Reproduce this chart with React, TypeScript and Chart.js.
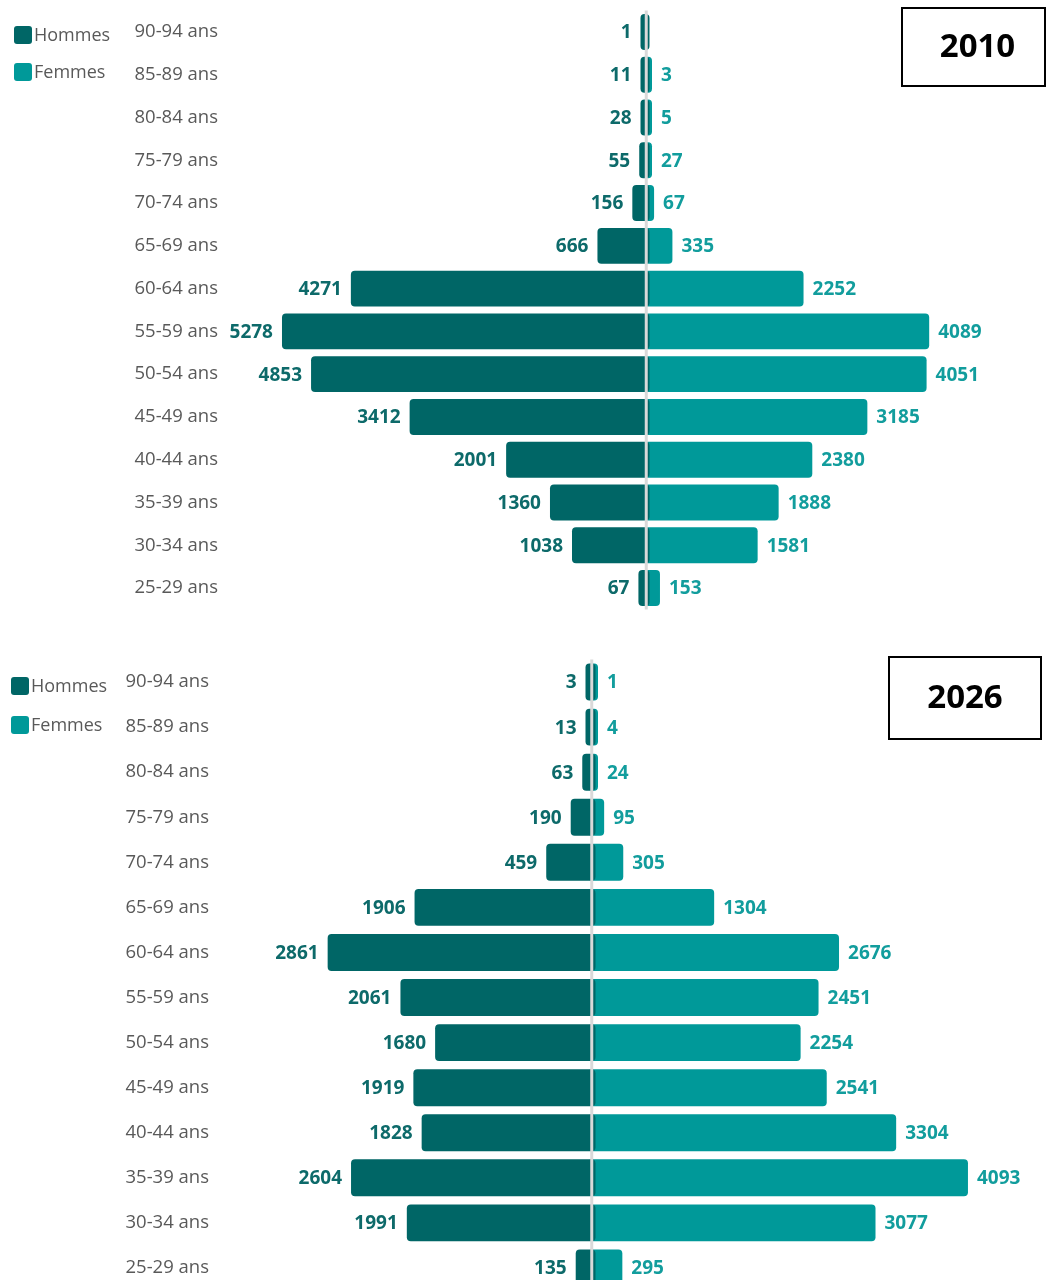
import React, { useEffect, useRef } from 'react';
import { Chart, registerables } from 'chart.js';

Chart.register(...registerables);

// Age bands, oldest at the top of the pyramid
const AGE_GROUPS = [
  '90-94 ans', '85-89 ans', '80-84 ans', '75-79 ans', '70-74 ans', '65-69 ans', '60-64 ans',
  '55-59 ans', '50-54 ans', '45-49 ans', '40-44 ans', '35-39 ans', '30-34 ans', '25-29 ans',
];

const HOMMES_2010 = [1, 11, 28, 55, 156, 666, 4271, 5278, 4853, 3412, 2001, 1360, 1038, 67];
const FEMMES_2010 = [null, 3, 5, 27, 67, 335, 2252, 4089, 4051, 3185, 2380, 1888, 1581, 153];

const HOMMES_2026 = [3, 13, 63, 190, 459, 1906, 2861, 2061, 1680, 1919, 1828, 2604, 1991, 135];
const FEMMES_2026 = [1, 4, 24, 95, 305, 1304, 2676, 2451, 2254, 2541, 3304, 4093, 3077, 295];

const SERIES = ['Hommes', 'Femmes'];
const COLOR_H = '#006666';
const COLOR_F = '#009999';
const TEXT_H = '#0d6a6a';
const TEXT_F = '#129d9d';
const AXIS_TEXT = '#595959';
const FONT = '"Open Sans", "Noto Sans", sans-serif';

type PyramidProps = {
  year: string;
  hommes: (number | null)[];
  femmes: (number | null)[];
  top: number;
  height: number;
  axisWidth: number;
  pxPerUnit: number; // horizontal scale, pixels per person
  zeroMen: number; // pixel where the men's axis starts
  zeroWomen: number; // pixel where the women's axis starts
  minBar: number;
  padTop: number;
  padBottom: number;
  barPct: number;
  legend: { x: number; y: number; gap: number };
  box: { x: number; y: number; w: number; h: number; textDx: number };
};

const WIDTH = 1046;

function Pyramid(props: PyramidProps) {
  const ref = useRef<HTMLCanvasElement>(null);

  useEffect(() => {
    const canvas = ref.current;
    if (!canvas) return;

    const k = props.pxPerUnit;
    const L = props.axisWidth;
    const R = WIDTH;
    const gapUnits = (props.zeroWomen - props.zeroMen) / k;

    // Numbers printed at the end of each bar
    const valueLabels = {
      id: 'valueLabels',
      afterDatasetsDraw(chart: any) {
        const ctx = chart.ctx;
        ctx.save();
        ctx.font = `bold 19px ${FONT}`;
        ctx.textBaseline = 'middle';
        chart.data.datasets.forEach((ds: any, i: number) => {
          const meta = chart.getDatasetMeta(i);
          const men = i === 0;
          meta.data.forEach((bar: any, j: number) => {
            const v = ds.data[j];
            if (v == null) return;
            ctx.fillStyle = men ? TEXT_H : TEXT_F;
            ctx.textAlign = men ? 'right' : 'left';
            const x = men ? Math.min(bar.x, bar.base) - 9 : Math.max(bar.x, bar.base) + 9;
            ctx.fillText(String(Math.abs(v)), x, bar.y + 1);
          });
        });
        ctx.restore();
      },
    };

    // Centre divider, legend swatches and the year box
    const decorations = {
      id: 'decorations',
      afterDatasetsDraw(chart: any) {
        const ctx = chart.ctx;
        const xm = chart.scales.xm.getPixelForValue(0);
        const xf = chart.scales.xf.getPixelForValue(0);
        const cx = (xm + xf) / 2;
        ctx.save();
        ctx.strokeStyle = '#d9d9d9';
        ctx.lineWidth = 3;
        ctx.beginPath();
        ctx.moveTo(cx, chart.chartArea.top);
        ctx.lineTo(cx, chart.chartArea.bottom);
        ctx.stroke();
        ctx.restore();
      },
      afterDraw(chart: any) {
        const ctx = chart.ctx;
        ctx.save();
        const { legend, box } = props;
        [COLOR_H, COLOR_F].forEach((c, i) => {
          const y = legend.y + i * legend.gap;
          ctx.fillStyle = c;
          ctx.beginPath();
          (ctx as any).roundRect(legend.x, y - 9, 18, 18, 3);
          ctx.fill();
          ctx.fillStyle = AXIS_TEXT;
          ctx.font = `18px ${FONT}`;
          ctx.textAlign = 'left';
          ctx.textBaseline = 'middle';
          ctx.fillText(SERIES[i], legend.x + 20, y + 1);
        });
        ctx.strokeStyle = '#000000';
        ctx.lineWidth = 2;
        ctx.strokeRect(box.x, box.y, box.w, box.h);
        ctx.fillStyle = '#000000';
        ctx.font = `bold 33px ${FONT}`;
        ctx.textAlign = 'center';
        ctx.textBaseline = 'middle';
        ctx.fillText(props.year, box.x + box.w / 2 + box.textDx, box.y + box.h / 2 + 1);
        ctx.restore();
      },
    };

    const hidden = { display: false };

    const chart = new Chart(canvas, {
      type: 'bar',
      data: {
        labels: AGE_GROUPS,
        datasets: [
          {
            label: SERIES[0],
            data: props.hommes.map((v) => (v == null ? null : -v)),
            xAxisID: 'xm',
            base: gapUnits,
            backgroundColor: COLOR_H,
            borderRadius: 4,
            borderSkipped: false,
            grouped: false,
            minBarLength: props.minBar,
            barPercentage: props.barPct,
            categoryPercentage: 1,
          },
          {
            label: SERIES[1],
            data: props.femmes,
            xAxisID: 'xf',
            base: -gapUnits,
            backgroundColor: COLOR_F,
            borderRadius: 4,
            borderSkipped: false,
            grouped: false,
            minBarLength: props.minBar,
            barPercentage: props.barPct,
            categoryPercentage: 1,
          },
        ],
      },
      options: {
        indexAxis: 'y',
        responsive: false,
        animation: false,
        devicePixelRatio: 1,
        events: [],
        layout: { padding: { top: props.padTop, bottom: props.padBottom, left: 0, right: 0 } },
        plugins: {
          legend: { display: false },
          tooltip: { enabled: false },
          title: { display: false },
        },
        scales: {
          xm: {
            type: 'linear',
            axis: 'x',
            position: 'bottom',
            min: -(props.zeroMen - L) / k,
            max: (R - props.zeroMen) / k,
            ...hidden,
          },
          xf: {
            type: 'linear',
            axis: 'x',
            position: 'bottom',
            min: -(props.zeroWomen - L) / k,
            max: (R - props.zeroWomen) / k,
            ...hidden,
          },
          y: {
            border: { display: false },
            grid: { display: false, drawTicks: false },
            ticks: {
              color: AXIS_TEXT,
              font: { family: FONT, size: 18.5 },
              padding: 8,
            },
            afterFit: (scale: any) => {
              scale.width = props.axisWidth;
              scale.paddingTop = 0;
              scale.paddingBottom = 0;
            },
          },
        },
      },
      plugins: [decorations, valueLabels],
    } as any);

    return () => chart.destroy();
  }, []);

  return (
    <canvas
      ref={ref}
      width={WIDTH}
      height={props.height}
      style={{ position: 'absolute', left: 0, top: props.top, width: WIDTH, height: props.height }}
    />
  );
}

export default function App() {
  return (
    <div
      style={{
        position: 'absolute',
        left: 0,
        top: 0,
        width: WIDTH,
        height: 1280,
        overflow: 'hidden',
        background: '#ffffff',
      }}
    >
      <Pyramid
        year="2010"
        hommes={HOMMES_2010}
        femmes={FEMMES_2010}
        top={0}
        height={620}
        axisWidth={226}
        pxPerUnit={0.0684}
        zeroMen={643}
        zeroWomen={649.5}
        minBar={9}
        padTop={10.6}
        padBottom={10.6}
        barPct={0.84}
        legend={{ x: 14, y: 35, gap: 37 }}
        box={{ x: 902, y: 8, w: 143, h: 78, textDx: 4 }}
      />
      <Pyramid
        year="2026"
        hommes={HOMMES_2026}
        femmes={FEMMES_2026}
        top={640}
        height={660}
        axisWidth={217}
        pxPerUnit={0.091}
        zeroMen={588}
        zeroWomen={595.5}
        minBar={10}
        padTop={19.5}
        padBottom={9.5}
        barPct={0.82}
        legend={{ x: 11, y: 46, gap: 39 }}
        box={{ x: 889, y: 17, w: 152, h: 82, textDx: 0 }}
      />
    </div>
  );
}
